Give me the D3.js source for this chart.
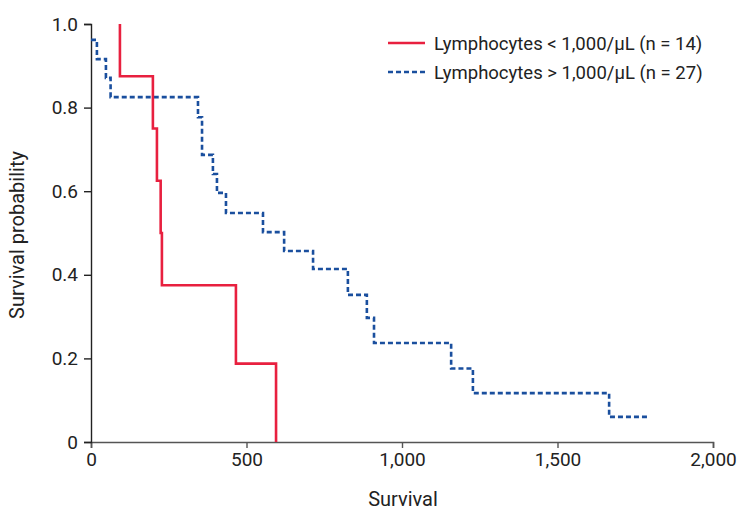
<!DOCTYPE html>
<html>
<head>
<meta charset="utf-8">
<script src="https://cdn.jsdelivr.net/npm/d3@7/dist/d3.min.js"></script>
<style>
  body { margin: 0; background: #fff; }
  text { font-family: Roboto, "Liberation Sans", sans-serif; fill: #222; }
</style>
</head>
<body>
<svg id="chart" width="743" height="513"></svg>
<script>
// Group: Lymphocytes < 1,000/µL (n = 14)
const lowTime = [93, 199, 212, 224, 228, 466, 595];
const lowSurv = [1.0, 0.875, 0.75, 0.625, 0.5, 0.375, 0.1875, 0];
// Group: Lymphocytes > 1,000/µL (n = 27)
const highTime = [0, 19, 48, 63, 344, 357, 392, 405, 434, 553, 621, 714, 826, 887, 910, 1158, 1228, 1666, 1788];
const highSurv = [0.962, 0.916, 0.871, 0.825, 0.777, 0.687, 0.641, 0.596, 0.548, 0.502, 0.457, 0.414, 0.352, 0.297, 0.237, 0.176, 0.117, 0.06, 0.06];

const xTicks = [0, 500, 1000, 1500, 2000];
const yTicks = [0, 0.2, 0.4, 0.6, 0.8, 1.0];
const legendLabels = ["Lymphocytes < 1,000/µL (n = 14)", "Lymphocytes > 1,000/µL (n = 27)"];

const svg = d3.select("#chart");
const x = d3.scaleLinear().domain([0, 2000]).range([91, 713]);
const y = d3.scaleLinear().domain([0, 1]).range([442, 24]);

function lowPoints() {
  const pts = [[lowTime[0], lowSurv[0]]];
  for (let i = 0; i < lowTime.length; i++) {
    pts.push([lowTime[i], lowSurv[i + 1]]);
  }
  return pts;
}
function highPoints() {
  return highTime.map((t, i) => [t, highSurv[i]]);
}

const FONT = "Roboto, 'Liberation Sans', sans-serif";

const xAxis = d3.axisBottom(x).tickValues(xTicks).tickSize(6).tickPadding(5)
  .tickFormat(d => d3.format(",")(d));
const gx = svg.append("g").attr("transform", "translate(0,442)").call(xAxis);
gx.select(".domain").attr("stroke", "#555").attr("stroke-width", 1.6);
gx.selectAll(".tick line").attr("stroke", "#555").attr("stroke-width", 1.4);
gx.selectAll(".tick text").attr("font-size", 19).attr("fill", "#222").style("font-family", FONT);

const yAxis = d3.axisLeft(y).tickValues(yTicks).tickSize(7).tickPadding(6)
  .tickFormat(d => d === 0 ? "0" : d3.format(".1f")(d));
const gy = svg.append("g").attr("transform", "translate(91,0)").call(yAxis);
gy.select(".domain").attr("stroke", "#222").attr("stroke-width", 1.4);
gy.selectAll(".tick line").attr("stroke", "#222").attr("stroke-width", 1.4);
gy.selectAll(".tick text").attr("font-size", 19).attr("fill", "#222").style("font-family", FONT);

svg.append("text").attr("x", 403).attr("y", 506).attr("text-anchor", "middle")
  .attr("font-size", 20).text("Survival");
svg.append("text").attr("transform", "translate(24,235) rotate(-90)")
  .attr("text-anchor", "middle").attr("font-size", 20).text("Survival probability");

const line = d3.line().x(d => x(d[0])).y(d => y(d[1])).curve(d3.curveStepAfter);

const red = "#e8203f";
const blue = "#1a4f9e";

svg.append("path").datum(highPoints()).attr("d", line)
  .attr("fill", "none").attr("stroke", blue).attr("stroke-width", 2.6)
  .attr("stroke-dasharray", "5,3");
svg.append("path").datum(lowPoints()).attr("d", line)
  .attr("fill", "none").attr("stroke", red).attr("stroke-width", 2.6);

const leg = svg.append("g");
leg.append("line").attr("x1", 388).attr("x2", 425).attr("y1", 43).attr("y2", 43)
  .attr("stroke", red).attr("stroke-width", 2.6);
leg.append("line").attr("x1", 388).attr("x2", 425).attr("y1", 72).attr("y2", 72)
  .attr("stroke", blue).attr("stroke-width", 2.6).attr("stroke-dasharray", "5,3");
leg.append("text").attr("x", 434).attr("y", 50).attr("font-size", 18.5).text(legendLabels[0]);
leg.append("text").attr("x", 434).attr("y", 79).attr("font-size", 18.5).text(legendLabels[1]);
</script>
</body>
</html>
